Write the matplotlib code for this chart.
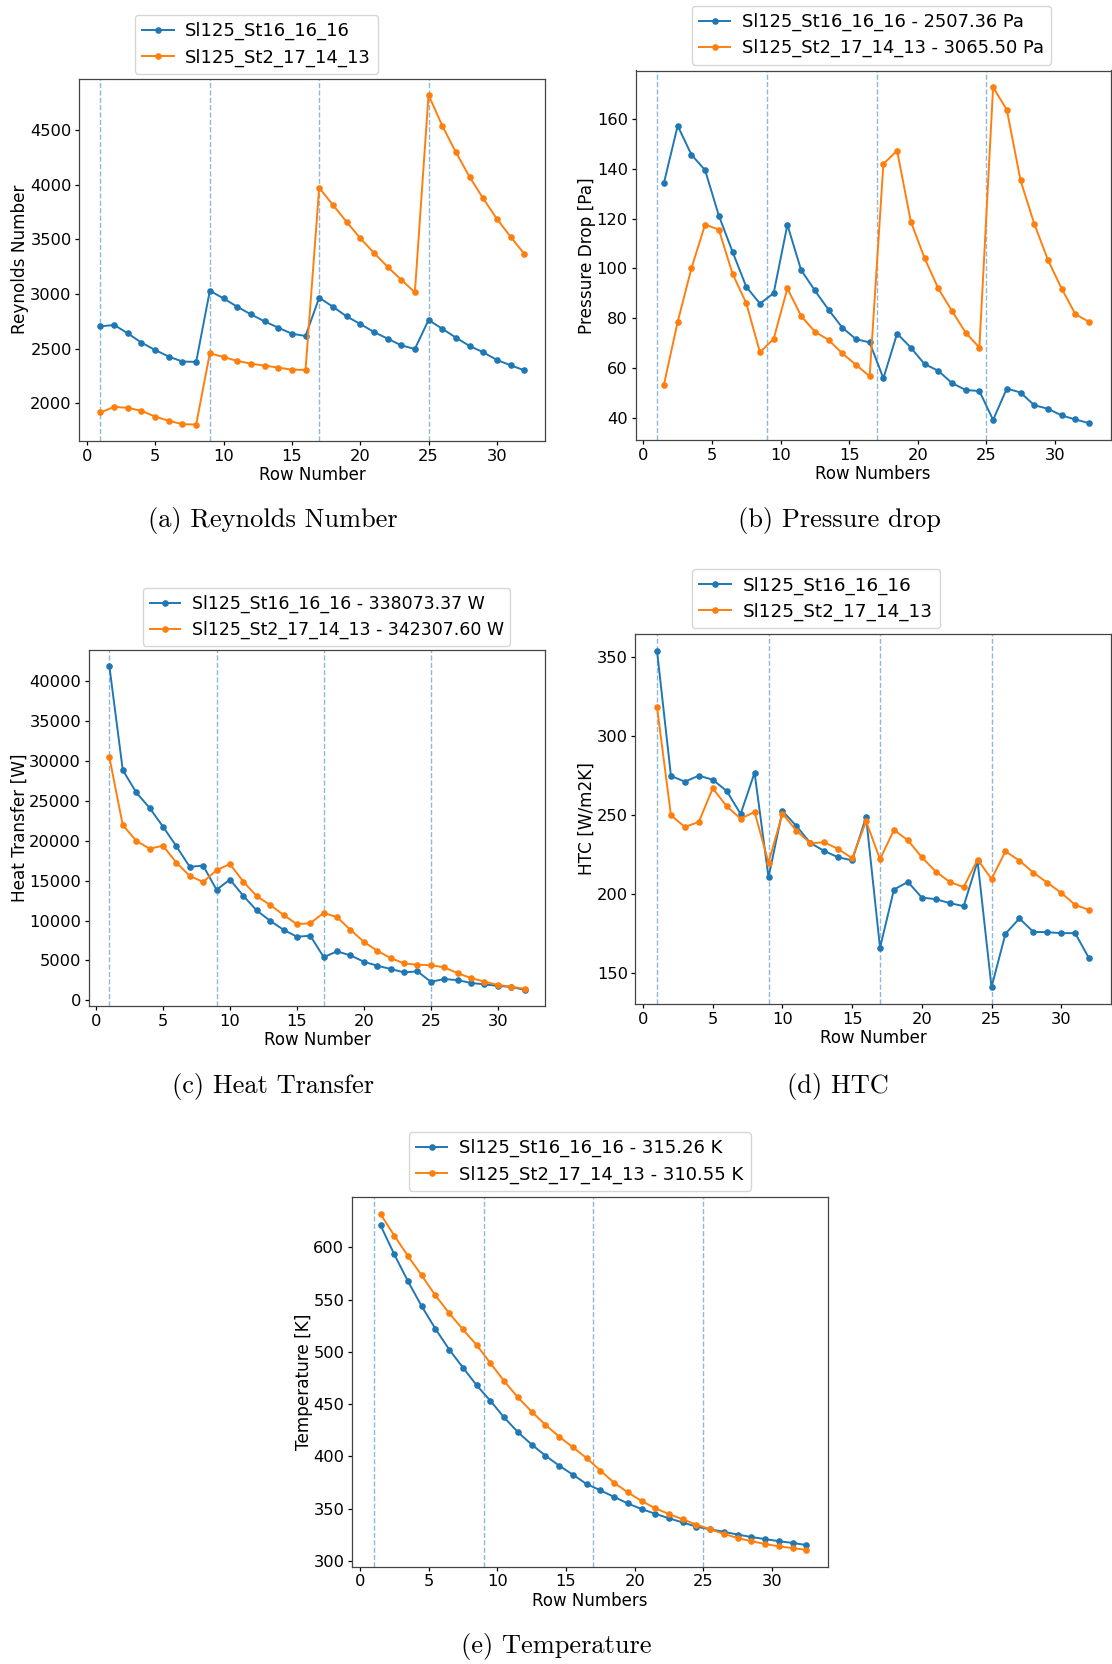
import matplotlib

matplotlib.use("Agg")
import matplotlib.pyplot as plt
import numpy as np
from matplotlib.ticker import MultipleLocator

W, H = 1112, 1664

rows = np.arange(1, 33)
rows_mid = rows + 0.5
block_starts = [1, 9, 17, 25]

name_a = "Sl125_St16_16_16"
name_b = "Sl125_St2_17_14_13"

# Reynolds number per row
re_a = [2703, 2716, 2639, 2554, 2487, 2426, 2381, 2378,
        3029, 2959, 2883, 2813, 2749, 2691, 2636, 2615,
        2965, 2883, 2795, 2725, 2652, 2591, 2530, 2496,
        2761, 2682, 2600, 2524, 2466, 2396, 2347, 2301]
re_b = [1915, 1967, 1957, 1930, 1878, 1839, 1808, 1805,
        2457, 2423, 2387, 2362, 2344, 2326, 2307, 2305,
        3970, 3815, 3660, 3510, 3376, 3248, 3130, 3014,
        4820, 4540, 4296, 4071, 3873, 3687, 3523, 3367]

# pressure drop per row [Pa]
dp_a = [134.3, 157.2, 145.6, 139.4, 121.2, 106.7, 92.7, 85.9,
        90.1, 117.5, 99.4, 91.2, 83.5, 76.3, 71.7, 70.36,
        56.0, 73.9, 68.3, 61.7, 59.0, 54.1, 51.3, 50.9,
        39.3, 51.9, 50.3, 45.2, 43.8, 41.1, 39.5, 38.0]
dp_b = [53.5, 78.6, 100.0, 117.6, 115.6, 97.9, 86.1, 66.4,
        71.8, 92.0, 81.0, 74.7, 71.4, 66.0, 61.4, 56.8,
        141.9, 147.2, 118.8, 104.2, 92.0, 83.0, 74.3, 68.3,
        172.6, 163.6, 135.3, 117.9, 103.4, 91.9, 81.7, 78.6]

# heat transfer per row [W]
q_a = [41900, 28880, 26090, 24130, 21790, 19330, 16740, 16900,
       13860, 15150, 13110, 11270, 9980, 8850, 7980, 8100,
       5430, 6140, 5640, 4840, 4350, 3930, 3510, 3630,
       2330, 2670, 2540, 2180, 2010, 1810, 1680, 1323.37]
q_b = [30490, 21980, 20020, 19020, 19390, 17270, 15600, 14850,
       16320, 17100, 14890, 13060, 11970, 10720, 9550, 9680,
       10970, 10430, 8840, 7340, 6220, 5300, 4630, 4460,
       4420, 4130, 3420, 2790, 2350, 1930, 1720, 1447.60]

# heat transfer coefficient per row [W/m2K]
htc_a = [354.2, 274.8, 271.2, 275.0, 272.4, 265.3, 250.7, 276.9,
         210.7, 252.6, 243.1, 232.4, 227.3, 223.3, 221.4, 248.8,
         166.0, 202.9, 207.7, 197.8, 196.8, 194.3, 192.4, 220.8,
         141.1, 174.9, 184.6, 176.1, 175.9, 175.3, 175.3, 159.3]
htc_b = [318.4, 249.9, 242.5, 245.7, 267.0, 255.6, 247.8, 252.0,
         220.0, 250.9, 240.2, 232.2, 232.8, 228.6, 222.7, 246.1,
         222.1, 240.6, 234.1, 223.3, 214.3, 207.7, 204.4, 221.9,
         209.6, 227.1, 221.2, 213.6, 207.3, 200.8, 193.2, 190.0]

# gas temperature after each row [K]
temp_a = [621.3, 593.4, 567.6, 543.7, 522.1, 502.3, 485.0, 468.1,
          453.2, 437.3, 423.3, 411.4, 400.8, 391.2, 382.6, 373.6,
          367.6, 361.3, 355.0, 349.7, 345.1, 340.8, 336.8, 332.8,
          330.2, 327.9, 325.2, 322.9, 320.9, 318.9, 317.2, 315.26]
temp_b = [631.9, 611.3, 591.8, 573.2, 554.0, 537.1, 521.5, 506.6,
          489.3, 472.1, 456.5, 442.9, 430.3, 419.0, 408.8, 398.5,
          386.5, 374.9, 365.6, 357.4, 350.4, 344.8, 339.8, 334.8,
          330.2, 325.9, 321.9, 318.9, 316.2, 313.9, 312.3, 310.55]

fig = plt.figure(figsize=(W / 100, H / 100), dpi=100)


def panel(box, x, ya, yb, labels, ylabel, xlabel, ystep, leg_xy, leg_size, caption, cap_xy):
    left, top, right, bottom = box
    ax = fig.add_axes([left / W, 1 - bottom / H, (right - left) / W, (bottom - top) / H])

    for xv in block_starts:
        ax.axvline(xv, color="C0", linestyle="--", linewidth=1.0, alpha=0.5)
    ax.plot(x, ya, color="C0", marker=".", markersize=7.5, linewidth=1.4, label=labels[0])
    ax.plot(x, yb, color="C1", marker=".", markersize=7.5, linewidth=1.4, label=labels[1])

    ax.xaxis.set_major_locator(MultipleLocator(5))
    ax.yaxis.set_major_locator(MultipleLocator(ystep))
    ax.tick_params(labelsize=11.7, length=3, width=0.9, pad=2.5)
    for sp in ax.spines.values():
        sp.set_color("#444444")
        sp.set_linewidth(0.9)
    ax.set_xlabel(xlabel, fontsize=12, labelpad=2)
    ax.set_ylabel(ylabel, fontsize=12.2, labelpad=0.5)

    ax.legend(loc="upper left", bbox_to_anchor=(leg_xy[0] / W, 1 - leg_xy[1] / H),
              bbox_transform=fig.transFigure, fontsize=leg_size, borderaxespad=0,
              borderpad=0.4, labelspacing=0.45, handlelength=1.75, handletextpad=0.65)

    fig.text(cap_xy[0] / W, 1 - cap_xy[1] / H, caption, fontfamily="cmr10",
             fontsize=19, ha="center", va="center")
    return ax


panel((79.3, 78.5, 545.4, 441), rows, re_a, re_b, [name_a, name_b],
      "Reynolds Number", "Row Number", 500, (134.7, 14.7), 13.0,
      "(a) Reynolds Number", (273, 521))

panel((635.5, 70.5, 1110.7, 440), rows_mid, dp_a, dp_b,
      [f"{name_a} - {sum(dp_a):.2f} Pa", f"{name_b} - {sum(dp_b):.2f} Pa"],
      "Pressure Drop [Pa]", "Row Numbers", 20, (691.7, 5.7), 12.9,
      "(b) Pressure drop", (839, 521))

panel((88.6, 650, 545.4, 1006), rows, q_a, q_b,
      [f"{name_a} - {sum(q_a):.2f} W", f"{name_b} - {sum(q_b):.2f} W"],
      "Heat Transfer [W]", "Row Number", 5000, (142.9, 587.7), 12.5,
      "(c) Heat Transfer", (273, 1086))

panel((635.4, 633.7, 1110.7, 1004), rows, htc_a, htc_b, [name_a, name_b],
      "HTC [W/m2K]", "Row Number", 50, (691.7, 569), 13.2,
      "(d) HTC", (838, 1086))

panel((352, 1197.3, 828, 1566.7), rows_mid, temp_a, temp_b,
      [f"{name_a} - {temp_a[-1]:.2f} K", f"{name_b} - {temp_b[-1]:.2f} K"],
      "Temperature [K]", "Row Numbers", 50, (408.5, 1132), 13.0,
      "(e) Temperature", (556.5, 1646))

fig.savefig("out.png", dpi=100)
